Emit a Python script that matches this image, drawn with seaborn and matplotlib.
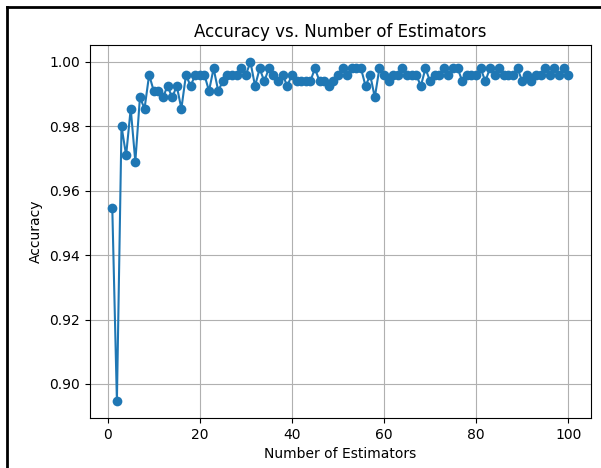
import numpy as np
import pandas as pd
import matplotlib
matplotlib.use("Agg")
import matplotlib.pyplot as plt
from matplotlib.lines import Line2D
import seaborn as sns

n_estimators = list(range(1, 101))
accuracy = [
    0.9545, 0.8947, 0.9800, 0.9710, 0.9855, 0.9690, 0.9890, 0.9855, 0.9960, 0.9910,
    0.9910, 0.9890, 0.9925, 0.9890, 0.9925, 0.9855, 0.9960, 0.9925, 0.9960, 0.9960,
    0.9960, 0.9910, 0.9980, 0.9910, 0.9940, 0.9960, 0.9960, 0.9960, 0.9980, 0.9960,
    1.0000, 0.9925, 0.9980, 0.9940, 0.9980, 0.9960, 0.9940, 0.9960, 0.9925, 0.9960,
    0.9940, 0.9940, 0.9940, 0.9940, 0.9980, 0.9940, 0.9940, 0.9925, 0.9940, 0.9960,
    0.9980, 0.9960, 0.9980, 0.9980, 0.9980, 0.9925, 0.9960, 0.9890, 0.9980, 0.9960,
    0.9940, 0.9960, 0.9960, 0.9980, 0.9960, 0.9960, 0.9960, 0.9925, 0.9980, 0.9940,
    0.9960, 0.9960, 0.9980, 0.9960, 0.9980, 0.9980, 0.9940, 0.9960, 0.9960, 0.9960,
    0.9980, 0.9940, 0.9980, 0.9960, 0.9980, 0.9960, 0.9960, 0.9960, 0.9980, 0.9940,
    0.9960, 0.9940, 0.9960, 0.9960, 0.9980, 0.9960, 0.9980, 0.9960, 0.9980, 0.9960,
]

df = pd.DataFrame({"n_estimators": n_estimators, "accuracy": accuracy})

fig = plt.figure(figsize=(6.01, 4.68), dpi=100)
ax = fig.add_axes([89.5 / 601, 1 - 418 / 468, (591 - 89.5) / 601, (418 - 45) / 468])

sns.lineplot(
    data=df,
    x="n_estimators",
    y="accuracy",
    marker="o",
    markeredgewidth=0,
    markersize=7,
    color="#1f77b4",
    linewidth=1.5,
    ax=ax,
)

ax.set(
    xlabel="Number of Estimators",
    ylabel="Accuracy",
    title="Accuracy vs. Number of Estimators",
)
ax.grid(True)

# frame of the screenshot
fig.add_artist(Line2D([7 / 601, 7 / 601], [0, 1 - 7 / 468], color="black", lw=2))
fig.add_artist(Line2D([7 / 601, 1], [1 - 7 / 468, 1 - 7 / 468], color="black", lw=2))

fig.savefig("out.png", dpi=100)
